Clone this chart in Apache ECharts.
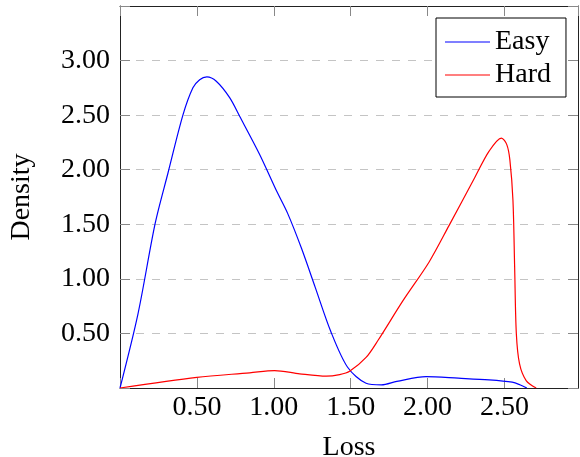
<!DOCTYPE html>
<html>
<head>
<meta charset="utf-8">
<script src="https://cdn.jsdelivr.net/npm/echarts@6/dist/echarts.min.js"></script>
<style>
  html, body { margin: 0; padding: 0; background: #fff; }
  #chart { width: 580px; height: 457px; }
</style>
</head>
<body>
<div id="chart"></div>
<script>
// Estimated loss densities for the two difficulty groups
const easyLoss = [0, 0.117, 0.229, 0.312, 0.409, 0.474, 0.518, 0.565, 0.626, 0.713, 0.778, 0.908, 1.02, 1.09, 1.18, 1.27, 1.37, 1.48, 1.60, 1.70, 1.80, 1.99, 2.20, 2.40, 2.55, 2.60, 2.645];
const easyDensity = [0, 0.68, 1.51, 1.97, 2.50, 2.75, 2.825, 2.85, 2.81, 2.66, 2.49, 2.14, 1.80, 1.60, 1.28, 0.92, 0.52, 0.19, 0.043, 0.028, 0.06, 0.105, 0.09, 0.074, 0.053, 0.03, 0];

const hardLoss = [0, 0.5, 0.843, 1.005, 1.168, 1.341, 1.428, 1.493, 1.60, 1.677, 1.84, 2.01, 2.14, 2.30, 2.40, 2.48, 2.515, 2.535, 2.555, 2.566, 2.577, 2.598, 2.641, 2.706];
const hardDensity = [0, 0.098, 0.139, 0.16, 0.13, 0.108, 0.123, 0.153, 0.28, 0.435, 0.80, 1.155, 1.49, 1.91, 2.17, 2.29, 2.23, 2.09, 1.72, 1.11, 0.50, 0.22, 0.068, 0];

const seriesNames = ['Easy', 'Hard'];
const seriesColors = ['#0000ff', '#ff0000'];

const xTickStep = 0.5;
const yTickStep = 0.5;

const font = 'Liberation Serif';

function zip(xs, ys) { return xs.map((x, i) => [x, ys[i]]); }

function tickText(v) {
  if (Math.abs(v) < 1e-9) return '';
  const r = Math.round(v / 0.5) * 0.5;
  if (Math.abs(r - v) > 1e-6) return '';
  return v.toFixed(2);
}

const chart = echarts.init(document.getElementById('chart'), null, { renderer: 'canvas' });

const frameLine = { show: true, onZero: false, lineStyle: { color: '#222', width: 1 } };
const innerTick = { show: true, inside: true, length: 10, lineStyle: { color: '#888', width: 1 } };

chart.setOption({
  animation: false,
  backgroundColor: '#fff',
  grid: { left: 120, top: 6, right: 2, bottom: 69, containLabel: false, outerBoundsMode: 'none' },
  legend: {
    data: seriesNames,
    orient: 'vertical',
    left: 436,
    top: 18,
    backgroundColor: '#fff',
    borderColor: '#000',
    borderWidth: 1,
    borderRadius: 0,
    padding: [9, 15, 7, 9],
    itemGap: 3,
    itemWidth: 45,
    itemHeight: 1.2,
    icon: 'rect',
    textStyle: { fontFamily: font, fontSize: 28, color: '#000', lineHeight: 30 }
  },
  xAxis: [
    {
      type: 'value', min: 0, max: 2.978, interval: xTickStep,
      name: 'Loss', nameLocation: 'middle', nameGap: 46,
      nameTextStyle: { fontFamily: font, fontSize: 28, color: '#000' },
      axisLine: frameLine, axisTick: innerTick,
      axisLabel: { fontFamily: font, fontSize: 28, color: '#000', margin: 6, formatter: tickText, showMinLabel: true, showMaxLabel: false },
      splitLine: { show: false }
    },
    {
      type: 'value', position: 'top', min: 0, max: 2.978, interval: xTickStep,
      axisLine: frameLine, axisTick: innerTick,
      axisLabel: { show: false }, splitLine: { show: false }
    }
  ],
  yAxis: [
    {
      type: 'value', min: 0, max: 3.5, interval: yTickStep,
      name: 'Density', nameLocation: 'middle', nameGap: 84, nameRotate: 90,
      nameTextStyle: { fontFamily: font, fontSize: 28, color: '#000' },
      axisLine: frameLine, axisTick: innerTick,
      axisLabel: { fontFamily: font, fontSize: 28, color: '#000', margin: 10, formatter: v => (v >= 3.49 ? '' : tickText(v)) },
      splitLine: { show: true, lineStyle: { color: '#c4c4c4', width: 1, type: [8, 8] } }
    },
    {
      type: 'value', position: 'right', min: 0, max: 3.5, interval: yTickStep,
      axisLine: frameLine, axisTick: innerTick,
      axisLabel: { show: false }, splitLine: { show: false }
    }
  ],
  series: [
    {
      name: seriesNames[0], type: 'line', data: zip(easyLoss, easyDensity),
      showSymbol: false, symbol: 'none', smooth: 0.3,
      lineStyle: { color: seriesColors[0], width: 1.2 }, itemStyle: { color: seriesColors[0] },
      clip: true, z: 3
    },
    {
      name: seriesNames[1], type: 'line', data: zip(hardLoss, hardDensity),
      showSymbol: false, symbol: 'none', smooth: 0.3,
      lineStyle: { color: seriesColors[1], width: 1.2 }, itemStyle: { color: seriesColors[1] },
      clip: true, z: 3
    }
  ]
});
</script>
</body>
</html>
